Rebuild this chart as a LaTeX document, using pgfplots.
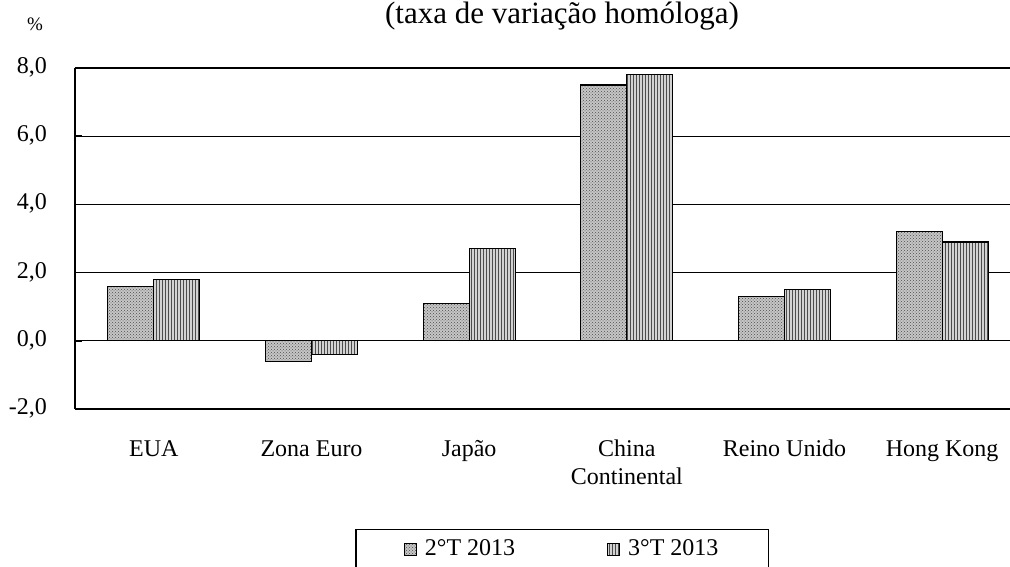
\documentclass[border=0pt]{standalone}
\usepackage{pgfplots}
\pgfplotsset{compat=1.18}
\usepackage{fontspec}
\setmainfont{Liberation Serif}
\usetikzlibrary{patterns}
\begin{document}
\fontsize{24}{28}\selectfont
\begin{tikzpicture}[x=1pt,y=1pt]
\path[use as bounding box] (0,0) rectangle (1010,567);
\node[font=\fontsize{31}{36}\selectfont, anchor=base, inner sep=0pt] at (562,543) {(taxa de variação homóloga)};
\node[font=\fontsize{19}{22}\selectfont, anchor=base, inner sep=0pt] at (35,536) {\%};
\begin{axis}[
  at={(75pt,158pt)}, anchor=south west,
  width=946pt, height=341pt, scale only axis,
  xmin=-0.5, xmax=5.5, ymin=-2, ymax=8,
  ybar=0pt, bar width=46pt,
  xtick={0,...,5},
  xticklabels={EUA, Zona Euro, Japão, China\\Continental, Reino Unido, Hong Kong},
  typeset ticklabels with strut,
  xticklabel style={align=center, yshift=-20pt, font=\fontsize{24}{28}\selectfont},
  x tick style={draw=none},
  ytick={-2,0,...,8},
  ymajorgrids, grid style={black, line width=1.2pt},
  axis lines*=left, axis line style={-, line width=1.6pt},
  tick align=inside, major tick length=7pt, y tick style={black, line width=1.6pt},
  yticklabel style={/pgf/number format/fixed, /pgf/number format/fixed zerofill,
    /pgf/number format/precision=1, /pgf/number format/use comma,
    /pgf/number format/assume math mode=true, xshift=-20pt,
    font=\fontsize{24}{28}\selectfont},
  legend style={at={(0.515,-0.352)}, anchor=north, draw=black, line width=1.2pt,
    legend columns=2, font=\fontsize{24}{28}\selectfont, inner xsep=48pt, inner ysep=8pt,
    /tikz/every odd column/.append style={column sep=6pt},
    /tikz/every even column/.append style={column sep=90pt}},
  legend image code/.code={\draw[#1, line width=1pt] (0pt,-6pt) rectangle (12pt,6pt);},
]
\addplot[draw=black, line width=1.3pt, fill=gray!45,
  postaction={pattern=crosshatch dots, pattern color=gray!60!black}]
  coordinates {(0,1.6) (1,-0.6) (2,1.1) (3,7.5) (4,1.3) (5,3.2)};
\addplot[draw=black, line width=1.3pt, fill=gray!35,
  postaction={pattern=vertical lines, pattern color=gray!60!black}]
  coordinates {(0,1.8) (1,-0.4) (2,2.7) (3,7.8) (4,1.5) (5,2.9)};
\legend{2°T 2013, 3°T 2013}
\end{axis}
\end{tikzpicture}
\end{document}
